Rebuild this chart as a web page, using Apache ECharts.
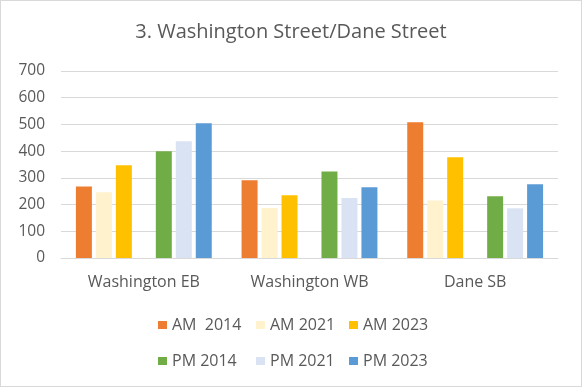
<!DOCTYPE html>
<html><head><meta charset="utf-8">
<script src="https://cdn.jsdelivr.net/npm/echarts@6/dist/echarts.min.js"></script>
<style>html,body{margin:0;padding:0;background:#fff}#c{position:absolute;left:0;top:0;width:580px;height:385px;border:1px solid #d9d9d9}</style>
</head><body><div id="c"></div>
<script>
const categories = ['Washington EB', 'Washington WB', 'Dane SB'];
const seriesNames = ['AM  2014', 'AM 2021', 'AM 2023', 'PM 2014', 'PM 2021', 'PM 2023'];
const am2014 = [268, 291, 508];
const am2021 = [246, 187, 215];
const am2023 = [347, 235, 377];
const pm2014 = [400, 324, 231];
const pm2021 = [437, 225, 186];
const pm2023 = [504, 265, 276];
const yTicks = [0, 100, 200, 300, 400, 500, 600, 700];
const colors = ['#ED7D31', '#FFF2CC', '#FFC000', '#70AD47', '#DAE3F3', '#5B9BD5'];

const font = '"Open Sans", "Noto Sans", sans-serif';
const txt = '#595959';
const values = [am2014, am2021, am2023, pm2014, pm2021, pm2023];
const series = [];
values.forEach((d, i) => {
  if (i === 3) series.push({name: 'gap', type: 'bar', data: [null, null, null], barGap: '25%', barCategoryGap: '18%'});
  series.push({name: seriesNames[i], type: 'bar', data: d, itemStyle: {color: colors[i]}, barGap: '25%', barCategoryGap: '18%'});
});
const colLeft = [152, 250, 343];
const rowTop = [311, 347];
const legends = seriesNames.map((n, i) => ({
  data: [n], left: colLeft[i % 3], top: rowTop[Math.floor(i / 3)],
  itemWidth: 9, itemHeight: 8, itemGap: 5, icon: 'rect',
  textStyle: {color: txt, fontSize: 16, fontFamily: font}
}));
const chart = echarts.init(document.getElementById('c'), null, {renderer: 'canvas'});
chart.setOption({
  animation: false,
  title: {text: '3. Washington Street/Dane Street', left: 'center', top: 16,
    textStyle: {color: txt, fontSize: 20, fontWeight: 'normal', fontFamily: font}},
  grid: {left: 60, right: 23, top: 70, bottom: 128},
  legend: legends,
  xAxis: {type: 'category', data: categories,
    axisLine: {lineStyle: {color: '#d9d9d9', width: 1}}, axisTick: {show: false},
    axisLabel: {color: txt, fontSize: 16, fontFamily: font, margin: 16}},
  yAxis: {type: 'value', min: yTicks[0], max: yTicks[yTicks.length - 1], interval: 100,
    axisLine: {show: false}, axisTick: {show: false},
    splitLine: {lineStyle: {color: '#d9d9d9', width: 1}},
    axisLabel: {color: txt, fontSize: 15.5, fontFamily: font, margin: 16}},
  series: series
});
</script></body></html>
